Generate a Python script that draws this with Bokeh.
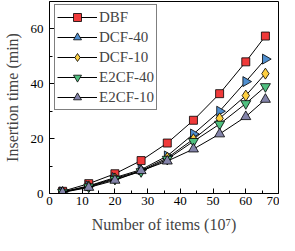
from bokeh.plotting import figure
from bokeh.embed import file_html
from bokeh.resources import INLINE
from bokeh.models import FixedTicker, Range1d, Legend

items = [4, 12, 20, 28, 36, 44, 52, 60, 66]
dbf = [0.8, 3.6, 7.2, 12.0, 18.4, 26.7, 36.4, 48.0, 57.4]
dcf40 = [0.6, 2.8, 5.8, 8.7, 13.7, 21.7, 30.0, 40.8, 49.0]
dcf10 = [0.5, 2.6, 5.5, 8.3, 13.0, 19.8, 27.4, 35.7, 43.7]
e2cf40 = [0.5, 2.4, 5.2, 8.0, 12.5, 19.0, 25.3, 32.8, 39.0]
e2cf10 = [0.4, 2.2, 4.8, 8.3, 11.8, 16.2, 21.7, 28.0, 34.3]

series = [
    ("DBF", dbf, "square", "#f03a3a", 8),
    ("DCF-40", dcf40, "triangle", "#4f8fd0", 10),
    ("DCF-10", dcf10, "diamond", "#ffd040", 11),
    ("E2CF-40", e2cf40, "inverted_triangle", "#50c080", 10),
    ("E2CF-10", e2cf10, "triangle", "#8484aa", 10),
]

FONT = "Liberation Serif"

p = figure(width=279, height=235, output_backend="svg", toolbar_location=None,
           x_range=Range1d(0, 70), y_range=Range1d(0, 70),
           min_border_left=40, min_border_right=1, min_border_top=1, min_border_bottom=10)
p.background_fill_color = "white"
p.border_fill_color = "white"
p.outline_line_color = "black"
p.outline_line_width = 1
p.grid.visible = False

items_legend = []
for name, vals, marker, color, size in series:
    ln = p.line(items, vals, line_color="black", line_width=1)
    if name == "DCF-40":
        sc = p.scatter(items, vals, marker="triangle", angle=-1.5708, size=size,
                       fill_color=color, line_color="black", line_width=0.8)
    else:
        sc = p.scatter(items, vals, marker=marker, size=size,
                       fill_color=color, line_color="black", line_width=0.8)
    items_legend.append((name, [ln, sc]))

legend = Legend(items=items_legend, location=(5, 83))
legend.label_text_font = FONT
legend.label_text_font_size = "15px"
legend.glyph_width = 40
legend.glyph_height = 20
legend.label_standoff = 2
legend.spacing = 0
legend.padding = 2
legend.margin = 0
legend.border_line_color = "black"
legend.border_line_width = 1
legend.background_fill_alpha = 1
p.add_layout(legend, "center")

for ax in (p.xaxis, p.yaxis):
    ax.major_label_text_font = FONT
    ax.major_label_text_font_size = "13px"
    ax.axis_label_text_font = FONT
    ax.axis_label_text_font_size = "16px"
    ax.axis_label_text_font_style = "normal"
    ax.major_tick_in = 5
    ax.major_tick_out = 0
    ax.minor_tick_in = 3
    ax.minor_tick_out = 0
    ax.axis_line_color = "black"
    ax.major_tick_line_color = "black"
    ax.minor_tick_line_color = "black"
    ax.major_label_text_color = "black"

p.xaxis.ticker = FixedTicker(ticks=[0, 10, 20, 30, 40, 50, 60, 70],
                             minor_ticks=[5, 15, 25, 35, 45, 55, 65])
p.yaxis.ticker = FixedTicker(ticks=[0, 20, 40, 60], minor_ticks=[10, 30, 50])
p.xaxis.axis_label = "Number of items (10⁷)"
p.yaxis.axis_label = "Insertion time (min)"
p.xaxis.major_label_standoff = 3
p.yaxis.major_label_standoff = 6
p.xaxis.axis_label_standoff = 8
p.yaxis.axis_label_standoff = 7

open("out.html", "w").write(file_html(p, INLINE))
